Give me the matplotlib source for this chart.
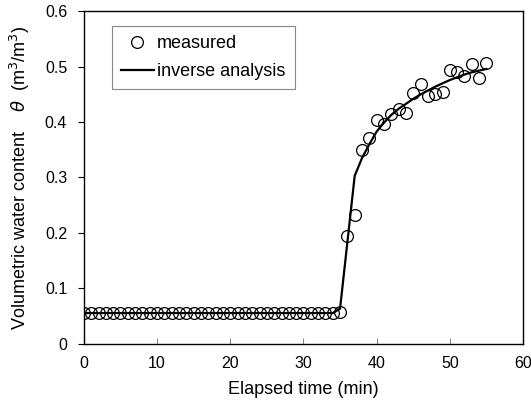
import numpy as np
import matplotlib.pyplot as plt

plt.rcParams['font.family'] = ['Liberation Sans', 'DejaVu Sans']
plt.rcParams['mathtext.fontset'] = 'dejavusans'

# measured values, one per minute (0..55)
t_meas = list(range(0, 56))
theta_flat = [0.055] * 35
theta_rise = [0.057, 0.195, 0.232, 0.349, 0.372, 0.403, 0.397, 0.414, 0.424, 0.417,
              0.453, 0.469, 0.448, 0.450, 0.454, 0.495, 0.490, 0.483, 0.505, 0.480, 0.507]
theta_meas = theta_flat + theta_rise

# inverse analysis curve
t_inv = [0, 34, 35, 37, 38, 39, 40, 41, 42, 43, 44, 45, 46, 47, 48, 49, 50, 51, 52, 53, 54, 55]
theta_inv = [0.055, 0.055, 0.063, 0.303, 0.335, 0.360, 0.383, 0.399, 0.413, 0.424, 0.433, 0.442,
             0.450, 0.457, 0.464, 0.470, 0.476, 0.481, 0.486, 0.490, 0.493, 0.496]

fig = plt.figure(figsize=(5.31, 4.07), dpi=100)
ax = fig.add_axes([0.158, 0.156, 0.827, 0.816])

ax.plot(t_inv, theta_inv, color='black', lw=1.6, label='inverse analysis', zorder=2)
ax.plot(t_meas, theta_meas, 'o', mfc='none', mec='black', mew=0.9, ms=8.5,
        label='measured', zorder=3)

ax.set_xlim(0, 60)
ax.set_ylim(0, 0.6)
ax.set_xticks(range(0, 61, 10))
ax.set_yticks([0, 0.1, 0.2, 0.3, 0.4, 0.5, 0.6])
ax.set_yticklabels(['0', '0.1', '0.2', '0.3', '0.4', '0.5', '0.6'])
ax.tick_params(axis='x', direction='in', length=4, color='#888888', labelsize=11.5, pad=9)
ax.tick_params(axis='y', direction='out', length=4, labelsize=11.5, pad=8)
for s in ax.spines.values():
    s.set_linewidth(1.0)

ax.set_xlabel('Elapsed time (min)', fontsize=13, labelpad=7)
ax.set_ylabel(r'Volumetric water content    $\theta$  (m$^3$/m$^3$)', fontsize=13, labelpad=9)

h, l = ax.get_legend_handles_labels()
leg = ax.legend(h[::-1], l[::-1], loc='upper left', bbox_to_anchor=(0.064, 0.956),
                borderaxespad=0, fontsize=13, handlelength=1.8, handletextpad=0.2,
                borderpad=0.5, labelspacing=0.6, fancybox=False, framealpha=1,
                edgecolor='#888888')
leg.get_frame().set_linewidth(0.8)

fig.savefig('out.png', dpi=100)
